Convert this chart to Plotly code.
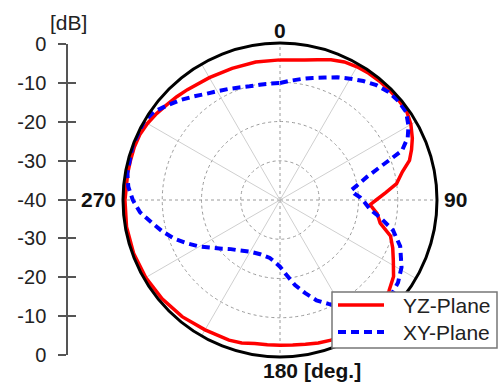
import math
import plotly.graph_objects as go

# Radiation pattern, gain in dB versus angle in degrees
yz_angle = [0, 5, 10, 15, 20, 25, 30, 35, 40, 45, 50, 55, 60, 65, 69, 73, 77, 82, 86, 90,
            93, 98, 103, 108, 113, 118, 124, 130, 135, 140, 145, 150, 155, 160, 165, 170,
            175, 180, 185, 190, 195, 200, 210, 220, 230, 240, 250, 260, 270, 280, 285, 290,
            295, 300, 305, 310, 315, 320, 330, 340, 350, 360]
yz_gain = [-4.3, -4.2, -3.8, -3.0, -2.0, -1.2, -0.8, -0.6, -0.5, -0.5, -0.5, -0.6, -1.5,
           -2.8, -4.1, -5.5, -8.0, -10.0, -13.0, -15.5, -17.0, -15.0, -13.8, -10.4, -8.8,
           -7.3, -5.1, -3.8, -3.2, -2.7, -2.4, -2.2, -2.0, -2.0, -2.3, -2.7, -2.9, -3.0,
           -3.0, -2.9, -2.3, -2.0, -1.8, -1.2, -0.8, -0.5, -0.3, -0.3, -0.5, -0.6, -0.6,
           -0.5, -0.6, -1.0, -1.6, -2.3, -2.8, -3.3, -4.0, -4.3, -4.3, -4.3]

xy_angle = [0, 5, 10, 15, 20, 25, 30, 35, 40, 45, 50, 55, 60, 64, 68, 72, 75, 78, 82, 85,
            88, 92, 96, 100, 105, 111, 119, 125, 130, 135, 140, 145, 150, 155, 160, 165,
            170, 175, 180, 185, 190, 200, 210, 220, 225, 230, 235, 240, 245, 250, 255, 260,
            265, 270, 275, 280, 290, 300, 305, 310, 315, 320, 325, 330, 335, 340, 345, 350,
            355, 360]
xy_gain = [-10.2, -9.5, -8.7, -7.8, -6.8, -5.5, -4.3, -3.0, -1.8, -1.0, -0.7, -0.8, -2.2,
           -3.8, -6.5, -13.5, -17.0, -19.2, -21.6, -21.0, -19.6, -18.3, -16.9, -14.0, -10.2,
           -7.2, -4.6, -3.3, -2.8, -3.5, -5.0, -6.8, -8.5, -10.8, -12.8, -15.5, -18.0, -20.8,
           -23.0, -24.2, -25.0, -25.3, -24.8, -23.3, -22.3, -20.7, -18.8, -16.3, -13.9, -11.3,
           -9.0, -6.8, -4.2, -2.5, -1.2, -0.5, 0.0, 0.0, -0.8, -2.5, -4.0, -5.6, -7.0, -8.0,
           -8.8, -9.5, -10.0, -10.2, -10.2, -10.2]

series_names = ["YZ-Plane", "XY-Plane"]
series_colors = ["#ff0000", "#0000ff"]
angle_ticks = [0, 90, 180, 270]
angle_labels = ["0", "90", "180", "270"]
angle_unit = "[deg.]"
ring_ticks = [-30, -20, -10]
db_scale = ["0", "-10", "-20", "-30", "-40", "-30", "-20", "-10", "0"]
db_unit = "[dB]"
spoke_angles = list(range(0, 360, 30))

FONT = "Liberation Sans, Arial, sans-serif"
W, H = 499, 385
cx, cy, R = 280, 200, 157   # pattern centre and outer radius, pixels


def px(x):
    return x / W


def py(y):
    return 1 - y / H


fig = go.Figure()

# Spokes: cardinal directions dotted, the rest solid light grey
for a in spoke_angles:
    cardinal = a % 90 == 0
    fig.add_trace(go.Scatterpolar(
        r=[-40, 0], theta=[a, a], mode="lines",
        line=dict(color="#9a9a9a" if cardinal else "#cfcfcf", width=1,
                  dash="dot" if cardinal else "solid"),
        showlegend=False, hoverinfo="skip"))

line_styles = [dict(color=series_colors[0], width=3.5),
               dict(color=series_colors[1], width=4, dash="8px,5px")]

fig.add_trace(go.Scatterpolar(r=yz_gain, theta=yz_angle, mode="lines",
                              name=series_names[0], line=line_styles[0], showlegend=False))
fig.add_trace(go.Scatterpolar(r=xy_gain, theta=xy_angle, mode="lines",
                              name=series_names[1], line=line_styles[1], showlegend=False))

# Invisible anchors for the dB scale bar on the left
fig.add_trace(go.Scatter(x=[0.5], y=[4], mode="markers", marker=dict(opacity=0),
                         showlegend=False, hoverinfo="skip", xaxis="x", yaxis="y"))
fig.add_trace(go.Scatter(x=[0.5], y=[4], mode="markers", marker=dict(opacity=0),
                         showlegend=False, hoverinfo="skip", xaxis="x", yaxis="y2"))

annotations = [dict(text=db_unit, x=px(68), y=py(22), xref="paper", yref="paper",
                    xanchor="center", yanchor="middle", showarrow=False,
                    font=dict(family=FONT, size=21, color="#222"))]

# Angle labels around the outer ring
bold = dict(family=FONT, size=21, color="#111", weight="bold")
for a, lab in zip(angle_ticks, angle_labels):
    s, c = math.sin(math.radians(a)), math.cos(math.radians(a))
    if a in (0, 180):
        x, y = cx + (R + 13) * s, cy - (R + 13) * c
        annotations.append(dict(text=lab, x=px(x), y=py(y), xref="paper", yref="paper",
                                xanchor="center", yanchor="middle", showarrow=False,
                                font=bold))
        if a == 180:
            annotations.append(dict(text=angle_unit, x=px(x + 22), y=py(y), xref="paper",
                                    yref="paper", xanchor="left", yanchor="middle",
                                    showarrow=False, font=bold))
    else:
        x, y = cx + (R + 5) * s, cy
        annotations.append(dict(text=lab, x=px(x), y=py(y), xref="paper", yref="paper",
                                xanchor="left" if s > 0 else "right", yanchor="middle",
                                showarrow=False, font=bold))

# Legend box
lg_x0, lg_x1, lg_y0, lg_y1 = 332, 497, 292, 348
shapes = [dict(type="rect", xref="paper", yref="paper", x0=px(lg_x0), x1=px(lg_x1),
               y0=py(lg_y1), y1=py(lg_y0), fillcolor="white",
               line=dict(color="#777", width=1.5), layer="above")]
for i, name in enumerate(series_names):
    yy = 305 + 27 * i
    shapes.append(dict(type="line", xref="paper", yref="paper", x0=px(338), x1=px(384),
                       y0=py(yy), y1=py(yy), line=line_styles[i], layer="above"))
    annotations.append(dict(text=name, x=px(401), y=py(yy + 0.5), xref="paper",
                            yref="paper", xanchor="left", yanchor="middle",
                            showarrow=False, font=dict(family=FONT, size=21, color="#222")))

fig.update_layout(
    width=W, height=H,
    margin=dict(l=0, r=0, t=0, b=0, pad=0, autoexpand=False),
    paper_bgcolor="white", plot_bgcolor="rgba(0,0,0,0)",
    font=dict(family=FONT, color="#222"),
    showlegend=False,
    polar=dict(
        domain=dict(x=[px(cx - R), px(cx + R)], y=[py(cy + R), py(cy - R)]),
        bgcolor="rgba(0,0,0,0)",
        radialaxis=dict(range=[-40, 0], tickvals=ring_ticks, showticklabels=False,
                        ticks="", showline=False, showgrid=True, gridcolor="#9a9a9a",
                        griddash="dot", gridwidth=1),
        angularaxis=dict(rotation=90, direction="clockwise", tickvals=angle_ticks,
                         showticklabels=False, ticks="", showgrid=False,
                         showline=True, linecolor="black", linewidth=3),
    ),
    xaxis=dict(domain=[px(68), px(90)], range=[0, 1], visible=False, fixedrange=True),
    yaxis=dict(domain=[py(355), py(44)], range=[8, 0], anchor="x", side="left",
               tickvals=list(range(9)), ticktext=db_scale, showline=True,
               linecolor="#555", linewidth=1.5, ticks="outside", ticklen=8,
               tickwidth=1.5, tickcolor="#555", showgrid=False, zeroline=False,
               ticklabelstandoff=8, automargin=False,
               tickfont=dict(family=FONT, size=20, color="#222")),
    yaxis2=dict(domain=[py(355), py(44)], range=[8, 0], anchor="x", side="left",
                overlaying="y", tickvals=list(range(9)), showticklabels=False,
                showline=False, ticks="inside", ticklen=8, tickwidth=1.5,
                tickcolor="#555", showgrid=False, zeroline=False, automargin=False),
    shapes=shapes,
    annotations=annotations,
)

fig.write_html("out.html")
